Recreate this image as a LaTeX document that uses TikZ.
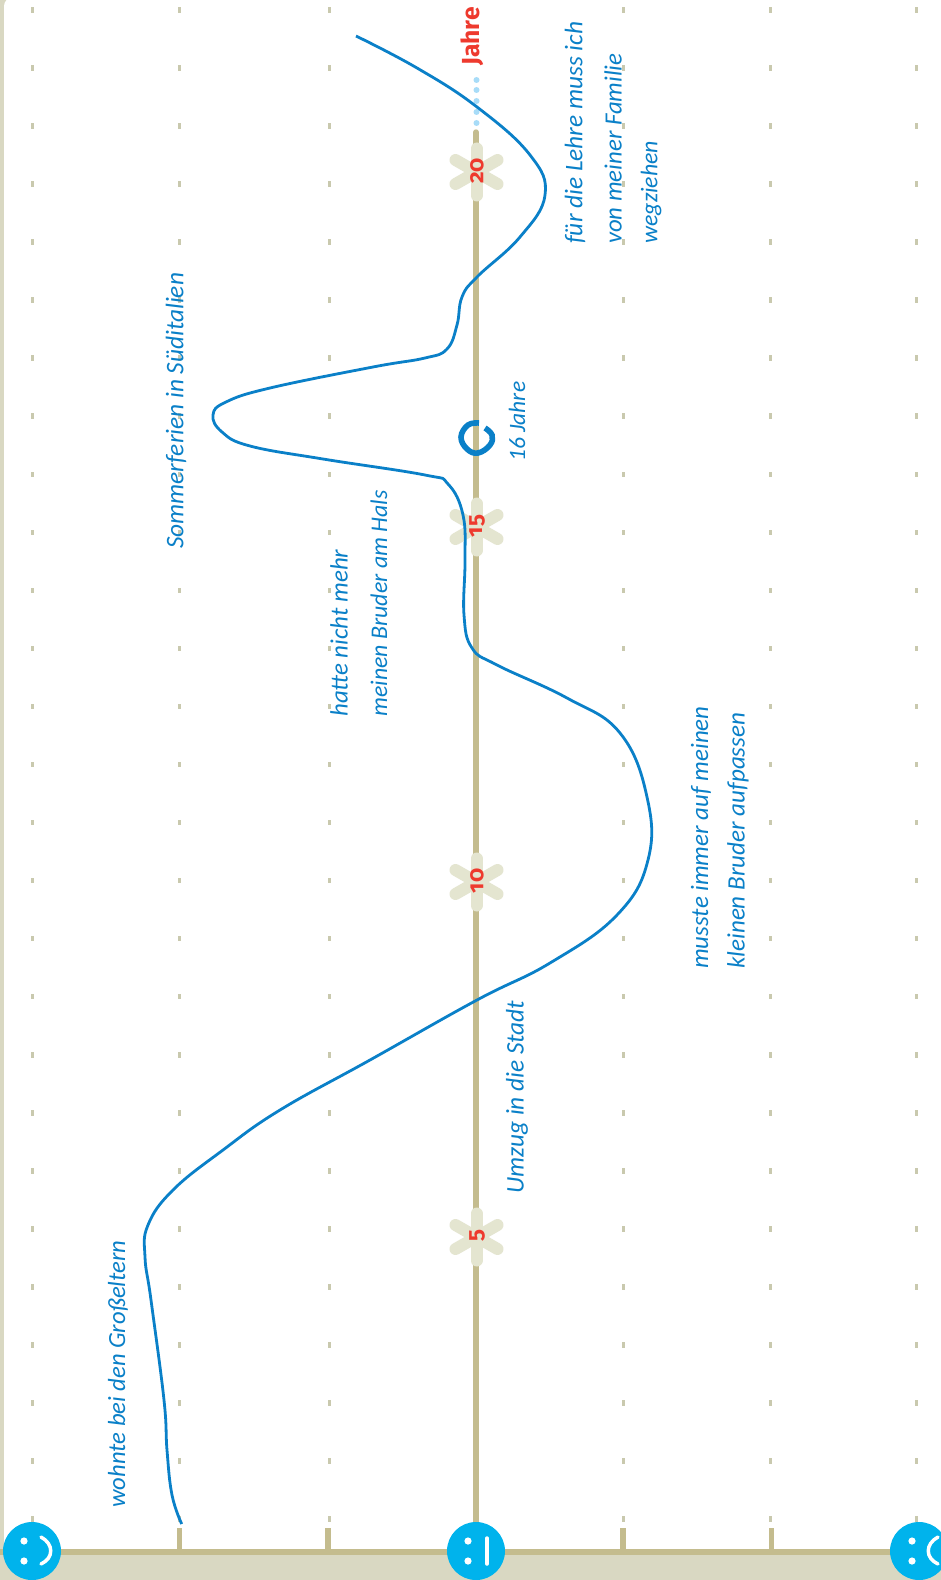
\documentclass[tikz,border=0pt]{standalone}
\usepackage{fontspec}
\setmainfont{Fira Sans}
\newfontfamily\handfont{Carlito}
\newfontfamily\labfont[Numbers=OldStyle]{Fira Sans}
\definecolor{strip}{HTML}{D9D8C2}
\definecolor{axisc}{HTML}{C4BC8E}
\definecolor{dotc}{HTML}{C9C9AE}
\definecolor{star}{HTML}{E4E5D0}
\definecolor{curve}{HTML}{0A80C8}
\definecolor{face}{HTML}{00B3EC}
\definecolor{redc}{HTML}{EE3A2E}
\definecolor{dotblue}{HTML}{A8DCF8}
\tikzset{
  note/.style={rotate=90,anchor=west,inner sep=0pt,text=curve,font=\handfont\itshape\fontsize{#1}{18}\selectfont},
  yearnum/.style={rotate=90,inner sep=0pt,text=redc,font=\labfont\bfseries\fontsize{17}{17}\selectfont},
  starbar/.style={line width=9pt,line cap=round,star},
  griddot/.style={fill=dotc,draw=none},
  facecirc/.style={circle,fill=face,minimum size=43.5pt,inner sep=0pt},
  facedraw/.style={white,line width=2.6pt,line cap=round},
  eye/.style={fill=white,draw=none}
}
\begin{document}
\begin{tikzpicture}[x=0.75pt,y=-0.75pt]
\useasboundingbox (0,0) rectangle (941,1580);
\clip (0,0) rectangle (941,1580);
\fill[strip] (0,0) rectangle (941,1580);
\fill[white,rounded corners=6pt] (4,-2) rectangle (960,1549.5);
% grid dots
\foreach \cx in {32,179,329,623,770,916}{
  \foreach \k in {0,...,26}{
    \fill[griddot] ({\cx-1.5},{10+58.04*\k-2.8}) rectangle ({\cx+1.5},{10+58.04*\k+2.8});
  }
}
% axes
\draw[line width=4pt,axisc] (0,1552) -- (941,1552);
\draw[line width=4pt,axisc] (179.5,1528) -- (179.5,1552);
\draw[line width=4pt,axisc] (328,1528) -- (328,1552);
\draw[line width=4pt,axisc] (623,1528) -- (623,1552);
\draw[line width=4pt,axisc] (771.5,1528) -- (771.5,1552);
\draw[line width=4pt,axisc,line cap=round] (476,132) -- (476,1530);
% blue dots
\foreach \yy in {80,90,101,112,123}{\fill[dotblue] (476.5,\yy) circle (3);}
% stars and years
\foreach \cy/\lab in {172/20,527/15,882/10,1237/5}{
  \draw[starbar] (476.5,{\cy-23.5}) -- (476.5,{\cy+23.5});
  \draw[starbar] (455.5,{\cy-12}) -- (497.5,{\cy+12});
  \draw[starbar] (455.5,{\cy+12}) -- (497.5,{\cy-12});
  \node[yearnum] (y\lab) at (477,{\cy-1}) {\lab};
}
% 16 Jahre ring
\draw[curve,line width=4.2pt] plot[smooth,tension=0.7] coordinates {
(479,423)(468,425)(461,437)(467,449)(478,453)(490,445)(492,435)(485,428)};
% curve
\draw[curve,line width=2.1pt,line join=round] plot[smooth,tension=0.7] coordinates {
(181.7,1524)(172,1495)(167,1450)(164,1400)(151,1300)(145,1257)(148,1225)(173,1190)(223,1150)(280,1110)(370,1060)(477,1000)(550,963)(617,915)(648,860)(647,797)(620,733)(567,698)(497,665)(472,648)(464,615)(465,560)(463,515)(448,484)(425,475)(323,459)(250,446)(222,432)(213,415)(226,402)(270,388)(373,367)(425,358)(447,349)(457,325)(462,297)(477,277)(520,237)(545,195)(530,155)(477,107)(417,68)(356,36)};
% faces
\node[facecirc] (f1) at (32,1551) {};
\node[facecirc] (f2) at (476,1551) {};
\node[facecirc] (f3) at (919,1551) {};
\fill[eye] (24,1541) circle (3.6); \fill[eye] (24,1561) circle (3.6);
\draw[facedraw] (41,1537) .. controls (54,1544) and (54,1558) .. (41,1564);
\fill[eye] (468,1541) circle (3.6); \fill[eye] (468,1561) circle (3.6);
\draw[facedraw] (487,1538) -- (487,1564);
\fill[eye] (912,1541) circle (3.6); \fill[eye] (912,1561) circle (3.6);
\draw[facedraw] (938,1537) .. controls (925,1544) and (925,1558) .. (938,1564);
% labels
\node[rotate=90,inner sep=0pt,text=redc,font=\labfont\bfseries\fontsize{18.5}{18}\selectfont,anchor=west] (jahre) at (472,66) {Jahre};
\node[note=18.5] (n1) at (118,1508) {wohnte bei den Großeltern};
\node[note=19] (n2) at (176,549) {Sommerferien in Süditalien};
\node[note=18.7] (n3a) at (339,717) {hatte nicht mehr};
\node[note=17.9] (n3b) at (379,717) {meinen Bruder am Hals};
\node[note=19] (n4) at (517,1194) {Umzug in die Stadt};
\node[note=17.6] (n5) at (517,462) {16 Jahre};
\node[note=18.7] (n6a) at (701,969) {musste immer auf meinen};
\node[note=18.8] (n6b) at (738,969) {kleinen Bruder aufpassen};
\node[note=19] (n7a) at (575,244) {für die Lehre muss ich};
\node[note=18.6] (n7b) at (613,244) {von meiner Familie};
\node[note=17.9] (n7c) at (651,244) {wegziehen};
\end{tikzpicture}
\end{document}
